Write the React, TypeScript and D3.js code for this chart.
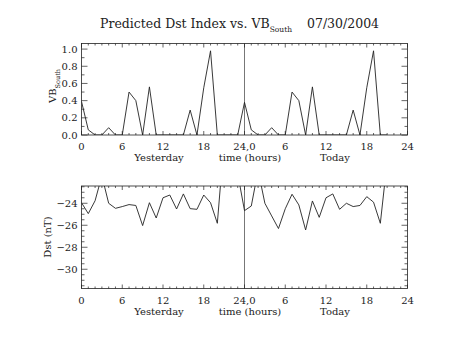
import React from "react";
import * as d3 from "d3";

const hours = d3.range(0, 46);
const vbSouth = [0.39, 0.06, 0, 0, 0.085, 0, 0, 0.5, 0.4, 0, 0.56, 0, 0, 0, 0, 0, 0.29, 0, 0.55, 0.98, 0, 0, 0, 0,
  0.38, 0.06, 0, 0, 0.085, 0, 0, 0.5, 0.4, 0, 0.56, 0, 0, 0, 0, 0, 0.29, 0, 0.55, 0.98, 0, 0];
const dst = [-23.95, -24.94, -23.77, -21.5, -24.0, -24.46, -24.3, -24.12, -24.2, -26.03, -23.95, -25.34, -23.5, -23.25,
  -24.52, -23.15, -24.49, -24.55, -23.25, -23.95, -25.82, -18.3, -19.5, -21.3, -24.67, -24.25, -21.0, -24.0, -25.15,
  -26.3, -24.5, -23.18, -24.15, -26.43, -23.79, -25.28, -23.5, -23.15, -24.55, -24.0, -24.3, -24.2, -23.4, -23.9,
  -25.82, -20.2];
const xTickValues = [0, 6, 12, 18, 24, 30, 36, 42, 48];
const xTickLabels = ["0", "6", "12", "18", "24,0", "6", "12", "18", "24"];
const vbTicks = [0, 0.2, 0.4, 0.6, 0.8, 1.0];
const dstTicks = [-30, -28, -26, -24];

const FONT = "'DejaVu Serif', serif";
const INK = "#222";

const X0 = 81.5, X1 = 407.5;
const x = d3.scaleLinear().domain([0, 48]).range([X0, X1]);

type PanelProps = {
  id: string;
  top: number;
  bottom: number;
  domain: [number, number];
  values: number[];
  yTicks: number[];
  yMinorStep: number;
  fmt: (v: number) => string;
  ylabel: React.ReactNode;
};

function Panel({ id, top, bottom, domain, values, yTicks, yMinorStep, fmt, ylabel }: PanelProps) {
  const y = d3.scaleLinear().domain(domain).range([bottom, top]);
  const line = d3.line<number>().x((_, i) => x(hours[i])).y((v) => y(v));
  const xMinor = d3.range(0, 49, 1);
  const yMinor = d3.range(Math.ceil(domain[0] / yMinorStep) * yMinorStep, domain[1], yMinorStep);
  const majX = 4, minX = 2, majY = 6, minY = 3;
  return (
    <g>
      <defs>
        <clipPath id={id}>
          <rect x={X0} y={top} width={X1 - X0} height={bottom - top} />
        </clipPath>
      </defs>
      <line x1={x(24)} x2={x(24)} y1={top} y2={bottom} stroke="#777" strokeWidth={1} />
      <path d={line(values) || ""} fill="none" stroke={INK} strokeWidth={0.9} clipPath={`url(#${id})`} />
      <rect x={X0} y={top} width={X1 - X0} height={bottom - top} fill="none" stroke={INK} strokeWidth={0.8} />
      {xMinor.map((h) => {
        const len = h % 6 === 0 ? majX : minX;
        return (
          <g key={"xm" + h} stroke={INK} strokeWidth={0.7}>
            <line x1={x(h)} x2={x(h)} y1={bottom} y2={bottom - len} />
            <line x1={x(h)} x2={x(h)} y1={top} y2={top + len} />
          </g>
        );
      })}
      {yMinor.map((v, i) => {
        const isMaj = yTicks.some((t) => Math.abs(t - v) < 1e-6);
        const len = isMaj ? majY : minY;
        return (
          <g key={"ym" + i} stroke={INK} strokeWidth={0.7}>
            <line x1={X0} x2={X0 + len} y1={y(v)} y2={y(v)} />
            <line x1={X1} x2={X1 - len} y1={y(v)} y2={y(v)} />
          </g>
        );
      })}
      {yTicks.map((t) => (
        <text key={"yl" + t} x={X0 - 4} y={y(t)} dy="0.35em" textAnchor="end" fontSize={10} fontFamily={FONT} fill={INK}>
          {fmt(t)}
        </text>
      ))}
      {xTickValues.map((t, i) => (
        <text key={"xl" + i} x={x(t)} y={bottom + 15} textAnchor="middle" fontSize={10} fontFamily={FONT} fill={INK}>
          {xTickLabels[i]}
        </text>
      ))}
      <text x={159} y={bottom + 26} textAnchor="middle" fontSize={10} fontFamily={FONT} fill={INK}>Yesterday</text>
      <text x={250} y={bottom + 26} textAnchor="middle" fontSize={10} fontFamily={FONT} fill={INK}>time (hours)</text>
      <text x={335} y={bottom + 26} textAnchor="middle" fontSize={10} fontFamily={FONT} fill={INK}>Today</text>
      {ylabel}
    </g>
  );
}

export default function App() {
  return (
    <svg width={453} height={340} style={{ position: "absolute", left: 0, top: 0, background: "#fff" }}>
      <rect width={453} height={340} fill="#fff" />
      <text x={100} y={28} fontSize={12.5} fontFamily={FONT} fill={INK}>
        Predicted Dst Index vs. VB
        <tspan fontSize={7.5} dy={4}>South</tspan>
      </text>
      <text x={307} y={28} fontSize={12.5} fontFamily={FONT} fill={INK}>07/30/2004</text>
      <Panel
        id="clipTop"
        top={43.5}
        bottom={135}
        domain={[0, 1.065]}
        values={vbSouth}
        yTicks={vbTicks}
        yMinorStep={0.1}
        fmt={(v) => v.toFixed(1)}
        ylabel={
          <text transform="translate(55.5,103) rotate(-90)" fontSize={10} fontFamily={FONT} fill={INK}>
            VB<tspan fontSize={6.5} dy={4}>South</tspan>
          </text>
        }
      />
      <Panel
        id="clipBot"
        top={186}
        bottom={288.5}
        domain={[-31.75, -22.43]}
        values={dst}
        yTicks={dstTicks}
        yMinorStep={0.5}
        fmt={(v) => "\u2212" + Math.abs(v)}
        ylabel={
          <text transform="translate(51,237) rotate(-90)" textAnchor="middle" fontSize={10} fontFamily={FONT} fill={INK}>
            Dst (nT)
          </text>
        }
      />
    </svg>
  );
}
